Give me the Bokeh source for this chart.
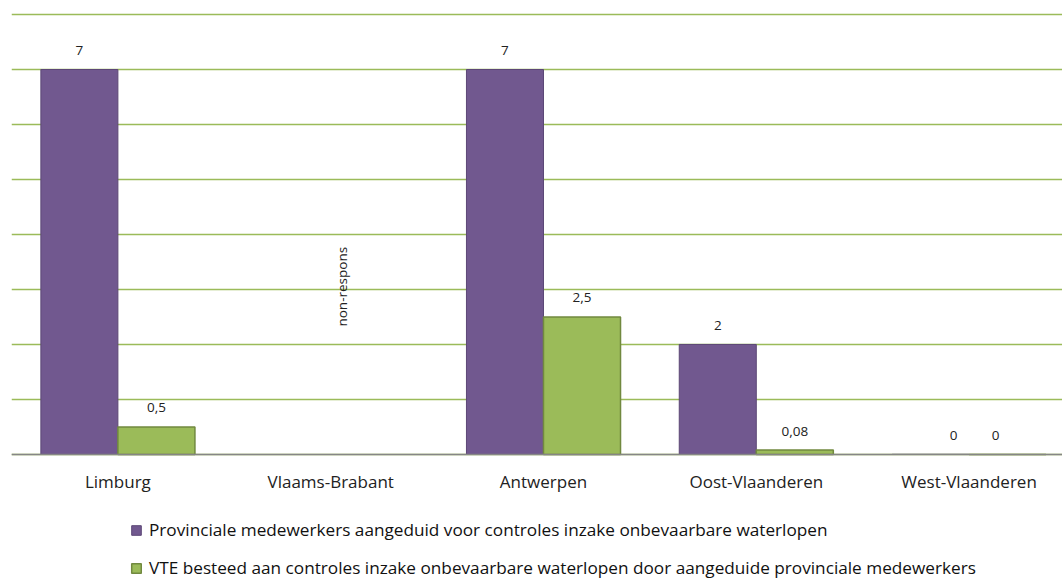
import math
from bokeh.plotting import figure
from bokeh.models import ColumnDataSource, FixedTicker, Range1d, Legend, LegendItem, Span
from bokeh.core.properties import value
from bokeh.embed import file_html
from bokeh.resources import INLINE

# ---- data ----
categories = ["Limburg", "Vlaams-Brabant", "Antwerpen", "Oost-Vlaanderen", "West-Vlaanderen"]
medewerkers = [7, None, 7, 2, 0]
vte = [0.5, None, 2.5, 0.08, 0]
series_names = [
    "Provinciale medewerkers aangeduid voor controles inzake onbevaarbare waterlopen",
    "VTE besteed aan controles inzake onbevaarbare waterlopen door aangeduide provinciale medewerkers",
]
note_text = "non-respons"
note_category = "Vlaams-Brabant"
note_value = 3.05
y_ticks = [0, 1, 2, 3, 4, 5, 6, 7, 8]

# ---- style ----
PURPLE, PURPLE_LINE = "#71588F", "#5C4776"
GREEN, GREEN_LINE = "#9BBB59", "#71893F"
FONT = "Open Sans"
BAR_W = 0.362
Y_BOTTOM = -2.293   # room below the axis for category labels and legend
Y_TOP = 8.055       # a little headroom so the top grid line is drawn

def fmt(v):
    if v == int(v):
        return str(int(v))
    return ("%g" % v).replace(".", ",")

centers = [i + 0.5 for i in range(len(categories))]

def series_source(vals, shift, zero_shift):
    xs, ys, labels, xoffs = [], [], [], []
    for c, v in zip(centers, vals):
        if v is None:
            continue
        xs.append(c + shift)
        ys.append(v)
        labels.append(fmt(v))
        xoffs.append(zero_shift if v == 0 else 0)
    return ColumnDataSource(dict(x=xs, top=ys, label=labels, xoff=xoffs))

src_p = series_source(medewerkers, -BAR_W / 2, 23)
src_g = series_source(vte, BAR_W / 2, -12)

p = figure(width=1062, height=580, output_backend="svg", toolbar_location=None,
           x_range=Range1d(0, 4.939), y_range=Range1d(Y_BOTTOM, Y_TOP),
           min_border_left=11, min_border_right=0, min_border_top=11, min_border_bottom=0)
p.outline_line_color = None
p.background_fill_color = "white"
p.xaxis.visible = False
p.yaxis.visible = False

p.ygrid.ticker = FixedTicker(ticks=y_ticks)
p.ygrid.grid_line_color = "#9BBB59"
p.ygrid.grid_line_width = 1.5
p.xgrid.visible = False

r1 = p.vbar(x="x", top="top", width=BAR_W, bottom=0, source=src_p,
            fill_color=PURPLE, line_color=PURPLE_LINE, line_width=1)
r2 = p.vbar(x="x", top="top", width=BAR_W, bottom=0, source=src_g,
            fill_color=GREEN, line_color=GREEN_LINE, line_width=1.5)

# category axis line
p.add_layout(Span(location=0, dimension="width", line_color="#868686", line_width=1.5))

for src in (src_p, src_g):
    p.text(x="x", y="top", text="label", source=src, x_offset="xoff", y_offset=-19,
           text_align="center", text_baseline="middle", text_font=value(FONT),
           text_font_size="13.5px", text_color="#222222")

# category labels
p.text(x=centers, y=[0] * len(centers), text=categories, y_offset=27,
       text_align="center", text_baseline="middle", text_font=value(FONT),
       text_font_size="17px", text_color="#222222")

nx = centers[categories.index(note_category)]
p.text(x=[nx], y=[note_value], text=[note_text], angle=math.pi / 2, x_offset=11,
       text_align="center", text_baseline="middle", text_font=value(FONT),
       text_font_size="13.5px", text_color="#222222")

legend = Legend(items=[LegendItem(label=series_names[0], renderers=[r1]),
                       LegendItem(label=series_names[1], renderers=[r2])],
                location=(119, 1), orientation="vertical",
                glyph_width=12, glyph_height=12, label_standoff=7,
                label_height=20, spacing=15, padding=0, margin=0,
                border_line_color=None, background_fill_alpha=0,
                label_text_font=FONT, label_text_font_size="17.2px",
                label_text_color="#111111")
p.add_layout(legend, "center")

open("out.html", "w").write(file_html(p, INLINE))
